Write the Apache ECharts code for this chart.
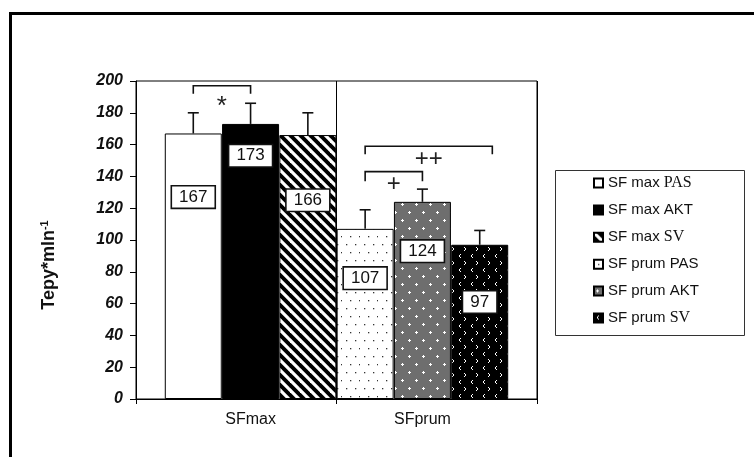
<!DOCTYPE html>
<html>
<head>
<meta charset="utf-8">
<script src="https://cdn.jsdelivr.net/npm/echarts@6/dist/echarts.min.js"></script>
<style>
html, body { margin: 0; padding: 0; background: #fff; }
#chart { width: 754px; height: 457px; }
</style>
</head>
<body>
<div id="chart"></div>
<script>
// chart data
const categories = ['SFmax', 'SFprum']
const groups = ['PAS', 'AKT', 'SV']
const seriesNames = ['SF max PAS', 'SF max AKT', 'SF max SV', 'SF prum PAS', 'SF prum AKT', 'SF prum SV']
const means = [167, 173, 166, 107, 124, 97]
const errorTops = [180, 186, 180, 119, 132, 106]
const labelLevels = [127, 153, 125, 76, 93, 61]
// significance brackets: bar index from / to, bracket top, leg foot, mark level
const brackets = [
  { from: 0, to: 1, top: 197, foot: 192, mark: '*', markAt: 184 },
  { from: 3, to: 4, top: 143, foot: 137, mark: '+', markAt: 135 },
  { from: 3, to: 5.22, top: 159, foot: 154, mark: '++', markAt: 151 }
]

const FONT = '"Liberation Sans", Arial, sans-serif'
const SERIF = '"Liberation Serif", "Times New Roman", serif'

function tile (w, h, draw) {
  const c = document.createElement('canvas')
  c.width = w
  c.height = h
  draw(c.getContext('2d'), w, h)
  return { image: c, repeat: 'repeat' }
}

const fills = [
  '#fff',
  '#000',
  // white diagonal stripes on black
  tile(10, 10, (ctx, s) => {
    ctx.fillStyle = '#000'
    ctx.fillRect(0, 0, s, s)
    ctx.strokeStyle = '#fff'
    ctx.lineWidth = 3.2
    for (let k = -1; k <= 1; k++) {
      ctx.beginPath()
      ctx.moveTo(k * s - 1, -1)
      ctx.lineTo(k * s + s + 1, s + 1)
      ctx.stroke()
    }
  }),
  // sparse dots on white
  tile(18, 16, (ctx, w, h) => {
    ctx.fillStyle = '#fff'
    ctx.fillRect(0, 0, w, h)
    ctx.fillStyle = '#333'
    ;[[4, 4], [13, 4], [8, 12], [17, 12]].forEach(([x, y]) => ctx.fillRect(x, y, 1.3, 1.3))
  }),
  // grey with white crosses
  tile(14, 16, (ctx, w, h) => {
    ctx.fillStyle = '#6e6e6e'
    ctx.fillRect(0, 0, w, h)
    ctx.fillStyle = '#fff'
    ;[[3, 4], [10, 12]].forEach(([x, y]) => {
      ctx.fillRect(x - 1, y, 3, 1)
      ctx.fillRect(x, y - 1, 1, 3)
    })
  }),
  // white chevrons on black
  tile(12, 14, (ctx, w, h) => {
    ctx.fillStyle = '#000'
    ctx.fillRect(0, 0, w, h)
    ctx.strokeStyle = '#fff'
    ctx.lineWidth = 1
    ctx.beginPath()
    ctx.moveTo(5, 2); ctx.lineTo(3, 4); ctx.lineTo(5, 6)
    ctx.moveTo(8, 9); ctx.lineTo(10, 11); ctx.lineTo(8, 13)
    ctx.stroke()
  })
]

const serifTail = [true, false, true, false, false, true]

const chart = echarts.init(document.getElementById('chart'), null, { renderer: 'canvas' })

const slot = i => i + 1
const groupCenter = c => c * groups.length + (groups.length + 1) / 2

const barSeries = seriesNames.map((name, i) => ({
  name,
  type: 'bar',
  barWidth: 57,
  barGap: '-100%',
  data: [[slot(i), means[i]]],
  itemStyle: { color: fills[i], borderColor: '#000', borderWidth: 1 },
  z: 2
}))

const option = {
  animation: false,
  backgroundColor: '#fff',
  grid: {
    left: 136,
    top: 81,
    right: 217,
    bottom: 58,
    show: true,
    borderColor: '#000',
    borderWidth: 1
  },
  xAxis: {
    type: 'value',
    min: 0,
    max: seriesNames.length + 1,
    interval: (seriesNames.length + 1) / 2,
    axisLine: { lineStyle: { color: '#000', width: 1 } },
    axisTick: { show: true, length: 5, lineStyle: { color: '#000' } },
    splitLine: { show: true, lineStyle: { color: '#000', width: 1 } },
    axisLabel: {
      customValues: categories.map((c, i) => groupCenter(i)),
      formatter: v => categories[Math.round((v - 2) / groups.length)],
      margin: 13,
      fontFamily: FONT,
      fontSize: 16,
      color: '#111'
    }
  },
  yAxis: {
    type: 'value',
    min: 0,
    max: 200,
    interval: 20,
    name: '{a|Tepy*mln}{b|-1}',
    nameLocation: 'middle',
    nameRotate: 90,
    nameGap: 77,
    nameTextStyle: {
      padding: [0, 50, 0, 0],
      rich: {
        a: { fontFamily: FONT, fontWeight: 'bold', fontSize: 18, color: '#111', lineHeight: 20 },
        b: { fontFamily: FONT, fontWeight: 'bold', fontSize: 11, color: '#111', verticalAlign: 'top', lineHeight: 20, padding: [0, 0, 9, 0] }
      }
    },
    axisLine: { show: true, lineStyle: { color: '#000', width: 1 } },
    axisTick: { show: true, length: 6, lineStyle: { color: '#000' } },
    splitLine: { show: false },
    axisLabel: {
      margin: 13,
      fontFamily: FONT,
      fontSize: 16,
      fontWeight: 'bold',
      fontStyle: 'italic',
      color: '#111'
    }
  },
  legend: {
    data: seriesNames,
    orient: 'vertical',
    left: 593,
    top: 175,
    padding: 0,
    itemWidth: 9,
    itemHeight: 9,
    itemGap: 11.6,
    icon: 'rect',
    selectedMode: false,
    formatter: name => {
      const i = seriesNames.indexOf(name)
      if (!serifTail[i]) return '{s|' + name + '}'
      const cut = name.lastIndexOf(' ')
      return '{s|' + name.slice(0, cut + 1) + '}{t|' + name.slice(cut + 1) + '}'
    },
    textStyle: {
      rich: {
        s: { fontFamily: FONT, fontSize: 15, color: '#111', lineHeight: 16 },
        t: { fontFamily: SERIF, fontSize: 16, color: '#111', lineHeight: 16 }
      }
    }
  },
  graphic: [
    {
      type: 'rect',
      shape: { x: 10.5, y: 13.5, width: 800, height: 500 },
      style: { fill: 'none', stroke: '#000', lineWidth: 3 },
      silent: true
    },
    {
      type: 'rect',
      shape: { x: 555.5, y: 170.5, width: 189, height: 165 },
      style: { fill: 'none', stroke: '#333', lineWidth: 1 },
      silent: true
    }
  ],
  series: [
    ...barSeries,
    {
      name: 'errors',
      type: 'custom',
      z: 5,
      data: means.map((m, i) => [slot(i), m, errorTops[i]]),
      renderItem (params, api) {
        const x = api.value(0)
        const base = api.coord([x, api.value(1)])
        const top = api.coord([x, api.value(2)])
        const style = { stroke: '#111', lineWidth: 1.6 }
        return {
          type: 'group',
          children: [
            { type: 'line', shape: { x1: base[0], y1: base[1], x2: top[0], y2: top[1] }, style },
            { type: 'line', shape: { x1: top[0] - 5.5, y1: top[1], x2: top[0] + 5.5, y2: top[1] }, style }
          ]
        }
      }
    },
    {
      name: 'values',
      type: 'scatter',
      z: 6,
      symbolSize: 0,
      itemStyle: { opacity: 1 },
      data: means.map((m, i) => [slot(i), labelLevels[i], m]),
      label: {
        show: true,
        position: 'inside',
        formatter: p => String(p.value[2]),
        fontFamily: FONT,
        fontSize: 17,
        color: '#111',
        backgroundColor: '#fff',
        borderColor: '#111',
        borderWidth: 1.6,
        padding: [2, 7, 2, 7]
      }
    },
    {
      name: 'brackets',
      type: 'custom',
      z: 6,
      data: brackets.map(b => [slot(b.from), slot(b.to), b.top, b.foot, b.markAt]),
      renderItem (params, api) {
        const b = brackets[params.dataIndex]
        const p1 = api.coord([api.value(0), api.value(3)])
        const p2 = api.coord([api.value(0), api.value(2)])
        const p3 = api.coord([api.value(1), api.value(2)])
        const p4 = api.coord([api.value(1), api.value(3)])
        const m = api.coord([(api.value(0) + api.value(1)) / 2, api.value(4)])
        return {
          type: 'group',
          children: [
            {
              type: 'polyline',
              shape: { points: [p1, p2, p3, p4] },
              style: { stroke: '#111', lineWidth: 1.6, fill: 'none' }
            },
            {
              type: 'text',
              x: m[0],
              y: m[1],
              style: {
                text: b.mark,
                fontFamily: FONT,
                fontSize: b.mark === '*' ? 26 : 24,
                fill: '#222',
                align: 'center',
                verticalAlign: 'middle'
              }
            }
          ]
        }
      }
    }
  ]
}

chart.setOption(option)
</script>
</body>
</html>
